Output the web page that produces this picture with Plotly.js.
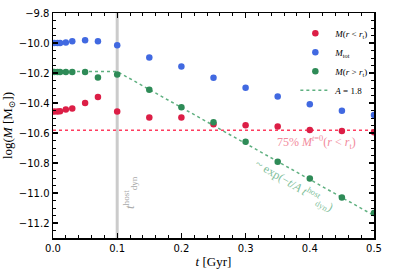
<!DOCTYPE html>
<html>
<head>
<meta charset="utf-8">
<script src="https://cdn.plot.ly/plotly-3.0.1.min.js"></script>
<style>html,body{margin:0;padding:0;background:#fff;}#chart{width:407px;height:271px;}</style>
</head>
<body>
<div id="chart"></div>
<script>
// time in Gyr
const t = [0.002, 0.007, 0.011, 0.02, 0.03, 0.05, 0.07, 0.1, 0.15, 0.2, 0.25, 0.3, 0.35, 0.4, 0.45, 0.5];
// log masses
const mInside = [-10.457, -10.457, -10.455, -10.443, -10.437, -10.40, -10.36, -10.457, -10.497, -10.497, -10.542, -10.549, -10.556, -10.58, -10.587, -10.595];
const mTot = [-10.0, -10.0, -10.0, -9.997, -9.989, -9.982, -9.989, -10.015, -10.096, -10.156, -10.231, -10.298, -10.357, -10.408, -10.452, -10.48];
const mOutside = [-10.193, -10.193, -10.193, -10.193, -10.193, -10.194, -10.23, -10.21, -10.312, -10.428, -10.528, -10.658, -10.791, -10.903, -11.03, -11.134];
// model A=1.8 (read endpoints)
const tModel = [0, 0.1, 0.5];
const mModel = [-10.19, -10.19, -11.15];
// 75% of initial inner mass
const tRef = [0, 0.5];
const mRef = [-10.582, -10.582];
const tDyn = 0.1;

const red = '#dc1e46', blue = '#4169e1', green = '#2e8b57';
const serif = 'Liberation Serif, DejaVu Serif, serif';

const traces = [
  {x: tRef, y: mRef, mode: 'lines', line: {color: '#ff3c5f', width: 1.5, dash: 'dot'}, showlegend: false, hoverinfo: 'skip'},
  {x: tModel, y: mModel, mode: 'lines', name: '<i>A</i> = 1.8', line: {color: '#5fb080', width: 1.5, dash: 'dot'}, legendrank: 4},
  {x: t, y: mInside, mode: 'markers', name: '<i>M</i>(<i>r</i> &lt; <i>r</i><sub>t</sub>)', marker: {color: red, size: 6.5}, legendrank: 1},
  {x: t, y: mTot, mode: 'markers', name: '<i>M</i><sub>tot</sub>', marker: {color: blue, size: 6.5}, legendrank: 2},
  {x: t, y: mOutside, mode: 'markers', name: '<i>M</i>(<i>r</i> &gt; <i>r</i><sub>t</sub>)', marker: {color: green, size: 6.5}, legendrank: 3}
];

const axisCommon = {
  showgrid: false, zeroline: false, showline: true, linecolor: '#000', linewidth: 1.5,
  mirror: 'allticks', ticks: 'inside', ticklen: 5, tickwidth: 1.2, tickcolor: '#000',
  tickfont: {family: 'DejaVu Sans', size: 10, color: '#000'}
};

const layout = {
  width: 407, height: 271,
  margin: {l: 53, r: 33, t: 13, b: 33},
  paper_bgcolor: '#fff', plot_bgcolor: '#fff',
  showlegend: true,
  legend: {x: 0.755, y: 0.975, xanchor: 'left', yanchor: 'top', bgcolor: 'rgba(0,0,0,0)',
           font: {family: serif, size: 9, color: '#000'}, tracegroupgap: 0, itemwidth: 30},
  xaxis: Object.assign({}, axisCommon, {
    range: [0, 0.5], dtick: 0.1, tick0: 0, tickformat: '.1f',
    minor: {dtick: 0.02, ticks: 'inside', ticklen: 3, tickcolor: '#000', tickwidth: 1},
    title: {text: '<i>t</i> [Gyr]', font: {family: serif, size: 13, color: '#000'}, standoff: 4}
  }),
  yaxis: Object.assign({}, axisCommon, {
    range: [-11.3, -9.8], dtick: 0.2, tick0: -9.8, tickformat: '.1f',
    minor: {dtick: 0.05, ticks: 'inside', ticklen: 3, tickcolor: '#000', tickwidth: 1},
    title: {text: 'log(<i>M</i> [M<sub>⊙</sub>])', font: {family: serif, size: 13, color: '#000'}, standoff: 7}
  }),
  shapes: [
    {type: 'line', xref: 'x', yref: 'paper', x0: tDyn, x1: tDyn, y0: 0, y1: 1, layer: 'below',
     line: {color: 'rgba(185,185,185,0.75)', width: 3}}
  ],
  annotations: [
    {x: 0.12, y: -11.0, xref: 'x', yref: 'y', text: '<i>t</i><sup>host</sup><sub>dyn</sub>', showarrow: false,
     textangle: -90, font: {family: serif, size: 13, color: '#aaaaaa'}},
    {x: 0.41, y: -10.66, xref: 'x', yref: 'y', text: '75% <i>M</i><sup><i>t</i>=0</sup>(<i>r</i> &lt; <i>r</i><sub>t</sub>)', showarrow: false,
     font: {family: serif, size: 12, color: '#f28a9c'}},
    {x: 0.375, y: -10.95, xref: 'x', yref: 'y', text: '~ exp(−<i>t</i>/<i>A t</i><sup>host</sup><sub>dyn</sub>)', showarrow: false,
     textangle: 31, font: {family: serif, size: 12, color: '#80c09a'}}
  ]
};

Plotly.newPlot('chart', traces, layout, {staticPlot: true, displayModeBar: false});
</script>
</body>
</html>
